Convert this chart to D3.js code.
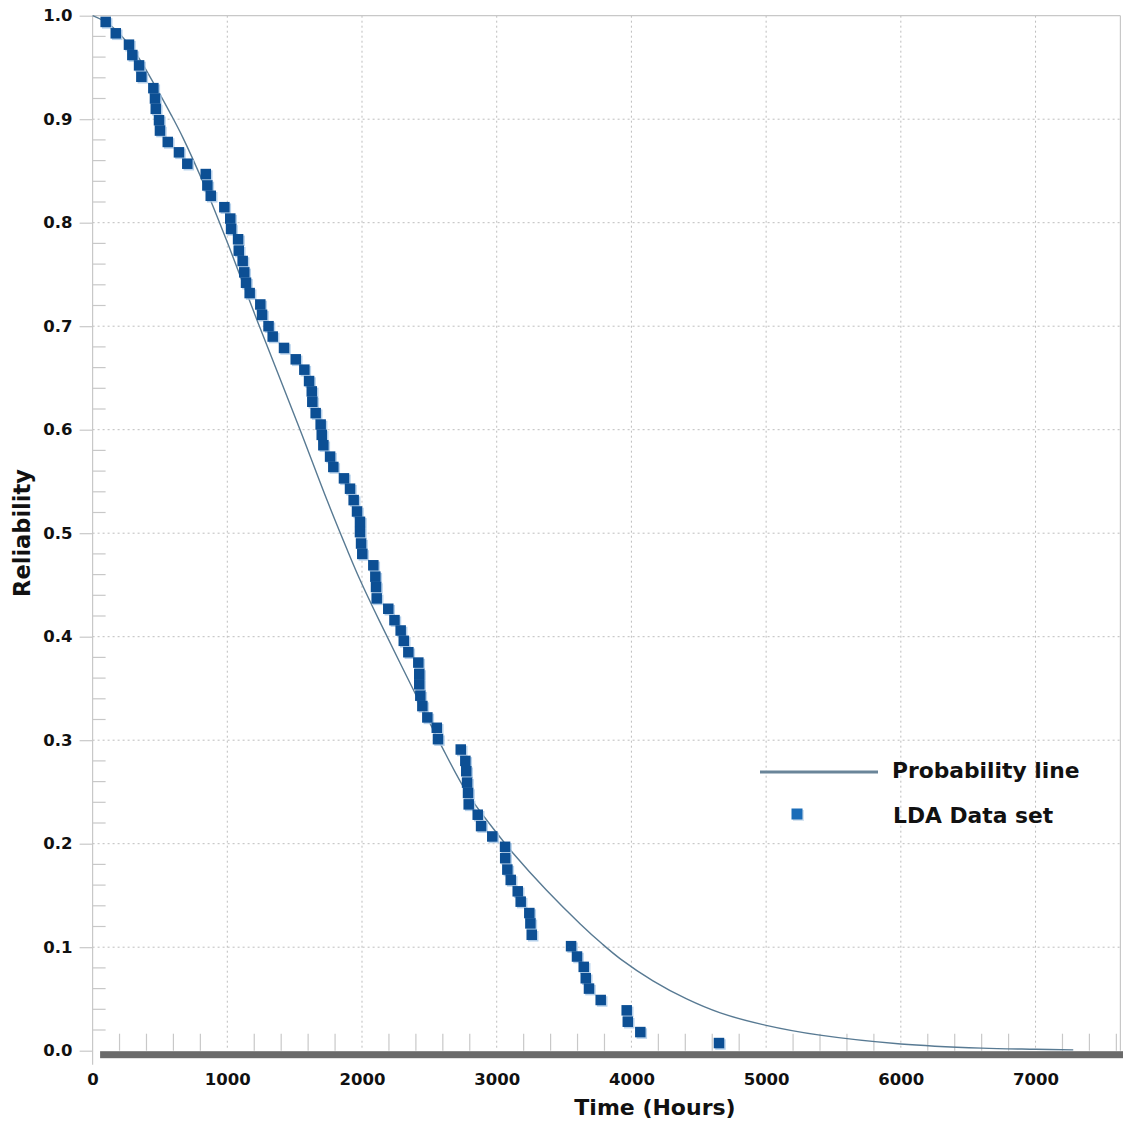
<!DOCTYPE html>
<html>
<head>
<meta charset="utf-8">
<script src="https://cdn.jsdelivr.net/npm/d3@7"></script>
<style>
  html, body { margin: 0; padding: 0; background: #fff; }
  svg { display: block; font-family: "DejaVu Sans", Verdana, sans-serif; }
</style>
</head>
<body>
<svg id="chart" width="1123" height="1124"></svg>
<script>
// ---- Data ----
const dataTime = [97, 172, 270, 295, 345, 362, 451, 463, 469, 493, 500, 558, 641, 703, 840, 852, 877, 978, 1022, 1028,
  1080, 1085, 1114, 1126, 1139, 1166, 1245, 1258, 1306, 1337, 1421, 1508, 1572, 1607, 1627, 1631, 1656, 1693, 1701, 1713,
  1763, 1787, 1866, 1911, 1938, 1963, 1985, 1985, 1993, 2002, 2084, 2099, 2104, 2109, 2195, 2241, 2287, 2310, 2344, 2418,
  2425, 2425, 2433, 2448, 2485, 2555, 2564, 2733, 2767, 2774, 2780, 2787, 2792, 2859, 2884, 2967, 3062, 3063, 3079, 3104,
  3156, 3178, 3242, 3250, 3260, 3552, 3596, 3646, 3661, 3685, 3772, 3965, 3973, 4066, 4650];
const dataReliability = [0.994, 0.983, 0.972, 0.962, 0.952, 0.941, 0.930, 0.920, 0.910, 0.899, 0.889, 0.878, 0.868, 0.857, 0.847, 0.836, 0.826, 0.815, 0.804, 0.794,
  0.784, 0.773, 0.763, 0.752, 0.742, 0.732, 0.721, 0.711, 0.700, 0.690, 0.679, 0.668, 0.658, 0.647, 0.637, 0.627, 0.616, 0.605, 0.595, 0.585,
  0.574, 0.564, 0.553, 0.543, 0.532, 0.521, 0.511, 0.501, 0.490, 0.480, 0.469, 0.458, 0.448, 0.437, 0.427, 0.416, 0.406, 0.396, 0.385, 0.375,
  0.364, 0.354, 0.343, 0.333, 0.322, 0.312, 0.301, 0.291, 0.280, 0.270, 0.259, 0.249, 0.238, 0.228, 0.217, 0.207, 0.197, 0.186, 0.175, 0.165,
  0.154, 0.144, 0.133, 0.123, 0.112, 0.101, 0.091, 0.081, 0.070, 0.060, 0.049, 0.039, 0.028, 0.018, 0.0074];

const lineTime = [0, 130, 312, 461, 584, 671, 820, 1000, 1220, 1540, 1740, 1890, 1985, 2130, 2430, 2580, 2780, 2990, 3120,
  3370, 3620, 3780, 3920, 4160, 4410, 4660, 5000, 5400, 6000, 6600, 7000, 7280];
const lineReliability = [1.0, 0.991, 0.965, 0.933, 0.904, 0.882, 0.839, 0.781, 0.706, 0.600, 0.532, 0.484, 0.455, 0.415, 0.336, 0.297, 0.249, 0.212, 0.191,
  0.155, 0.1225, 0.1035, 0.0885, 0.0675, 0.050, 0.0365, 0.0245, 0.015, 0.0065, 0.0025, 0.0014, 0.0008];

const xTickValues = [0, 1000, 2000, 3000, 4000, 5000, 6000, 7000];
const yTickValues = [0.0, 0.1, 0.2, 0.3, 0.4, 0.5, 0.6, 0.7, 0.8, 0.9, 1.0];
const xMinorStep = 200;
const yMinorStep = 0.02;
const legendLabels = ["Probability line", "LDA Data set"];
const xTitle = "Time (Hours)";
const yTitle = "Reliability";

(function () {
// ---- Layout ----
const plotLeft = 92.6, plotRight = 1120.4, plotTop = 15.7, plotBottom = 1050.7;
const xMax = 7630;

const svg = d3.select("#chart");
const x = d3.scaleLinear().domain([0, xMax]).range([plotLeft, plotRight]);
const y = d3.scaleLinear().domain([0, 1]).range([plotBottom, plotTop]);

const gridColor = "#bdbdbd";
const axisColor = "#c8c8c8";

// grid (dotted)
svg.append("g").selectAll("line")
  .data(xTickValues.filter(d => d > 0))
  .join("line")
  .attr("x1", d => x(d)).attr("x2", d => x(d))
  .attr("y1", y(1)).attr("y2", y(0))
  .attr("stroke", gridColor).attr("stroke-width", 1).attr("stroke-dasharray", "2,3");
svg.append("g").selectAll("line")
  .data(yTickValues.filter(d => d > 0 && d < 1))
  .join("line")
  .attr("x1", x(0)).attr("x2", plotRight)
  .attr("y1", d => y(d)).attr("y2", d => y(d))
  .attr("stroke", gridColor).attr("stroke-width", 1).attr("stroke-dasharray", "2,3");

// borders top & right
svg.append("line").attr("x1", x(0)).attr("x2", plotRight).attr("y1", y(1)).attr("y2", y(1))
  .attr("stroke", axisColor).attr("stroke-width", 1.2);
svg.append("line").attr("x1", plotRight).attr("x2", plotRight).attr("y1", y(1)).attr("y2", y(0))
  .attr("stroke", axisColor).attr("stroke-width", 1.2);

// Y axis
const yAxis = d3.axisLeft(y).tickValues(yTickValues).tickFormat(d3.format(".1f")).tickSize(13).tickPadding(7);
const gy = svg.append("g").attr("transform", `translate(${x(0)},0)`).call(yAxis);
gy.select(".domain").remove();
gy.selectAll(".tick line").attr("stroke", axisColor).attr("stroke-width", 1.2);
gy.selectAll(".tick text").attr("font-size", 16.5).attr("font-weight", "bold").attr("fill", "#111")
  .attr("font-family", "DejaVu Sans, Verdana, sans-serif");
svg.append("line").attr("x1", x(0)).attr("x2", x(0)).attr("y1", y(1)).attr("y2", y(0) + 14)
  .attr("stroke", axisColor).attr("stroke-width", 1.2);

// Y minor ticks (to the right)
const yMinor = d3.range(0, 1.0001, yMinorStep).filter(v => Math.abs(v * 10 - Math.round(v * 10)) > 1e-6);
svg.append("g").selectAll("line")
  .data(yMinor).join("line")
  .attr("x1", x(0)).attr("x2", x(0) + 13)
  .attr("y1", d => y(d)).attr("y2", d => y(d))
  .attr("stroke", axisColor).attr("stroke-width", 1.2);

// X minor ticks (upward)
const xMinor = d3.range(xMinorStep, xMax, xMinorStep).filter(v => v % 1000 !== 0);
svg.append("g").selectAll("line")
  .data(xMinor).join("line")
  .attr("x1", d => x(d)).attr("x2", d => x(d))
  .attr("y1", y(0) - 17).attr("y2", y(0))
  .attr("stroke", axisColor).attr("stroke-width", 1.2);

// X axis thick bar
svg.append("rect").attr("x", x(0) + 7.5).attr("y", y(0) + 0.5)
  .attr("width", 1123 - (x(0) + 7.5)).attr("height", 7)
  .attr("fill", "#6a6a6a");

// X axis labels
const xAxis = d3.axisBottom(x).tickValues(xTickValues).tickFormat(d3.format("d")).tickSize(0).tickPadding(23);
const gx = svg.append("g").attr("transform", `translate(0,${y(0)})`).call(xAxis);
gx.select(".domain").remove();
gx.selectAll(".tick text").attr("font-size", 16.5).attr("font-weight", "bold").attr("fill", "#111")
  .attr("font-family", "DejaVu Sans, Verdana, sans-serif");

// Axis titles
svg.append("text").attr("x", 655).attr("y", 1115).attr("text-anchor", "middle")
  .attr("font-size", 22).attr("font-weight", "bold").attr("fill", "#111").text(xTitle);
svg.append("text").attr("transform", `translate(30,533) rotate(-90)`).attr("text-anchor", "middle")
  .attr("font-size", 22.5).attr("font-weight", "bold").attr("fill", "#111").text(yTitle);

// Probability line
const lineData = lineTime.map((t, i) => [t, lineReliability[i]]);
const lineGen = d3.line().x(d => x(d[0])).y(d => y(d[1])).curve(d3.curveCatmullRom.alpha(0.5));
svg.append("path").datum(lineData).attr("d", lineGen)
  .attr("fill", "none").attr("stroke", "#587a93").attr("stroke-width", 1.4);

// Data points
const pts = dataTime.map((t, i) => [t, dataReliability[i]]);
const sz = 10.5;
const gp = svg.append("g");
gp.append("g").selectAll("rect").data(pts).join("rect")
  .attr("x", d => x(d[0]) - sz / 2 + 1.5).attr("y", d => y(d[1]) - sz / 2 + 1.5)
  .attr("width", sz).attr("height", sz)
  .attr("fill", "#a9c9e8").attr("opacity", 0.85);
gp.append("g").selectAll("rect").data(pts).join("rect")
  .attr("x", d => x(d[0]) - sz / 2).attr("y", d => y(d[1]) - sz / 2)
  .attr("width", sz).attr("height", sz)
  .attr("fill", "#0c4f94");

// Legend
svg.append("line").attr("x1", 760).attr("x2", 878).attr("y1", 772).attr("y2", 772)
  .attr("stroke", "#6a8599").attr("stroke-width", 3);
svg.append("text").attr("x", 892).attr("y", 777.5).attr("font-size", 21.8).attr("font-weight", "bold")
  .attr("fill", "#111").text(legendLabels[0]);
svg.append("rect").attr("x", 793).attr("y", 810).attr("width", 11).attr("height", 11).attr("fill", "#d6e3ef");
svg.append("rect").attr("x", 791.5).attr("y", 808.5).attr("width", 11).attr("height", 11).attr("fill", "#1a6cb8");
svg.append("text").attr("x", 893).attr("y", 822.5).attr("font-size", 21.8).attr("font-weight", "bold")
  .attr("fill", "#111").text(legendLabels[1]);
})();
</script>
</body>
</html>
